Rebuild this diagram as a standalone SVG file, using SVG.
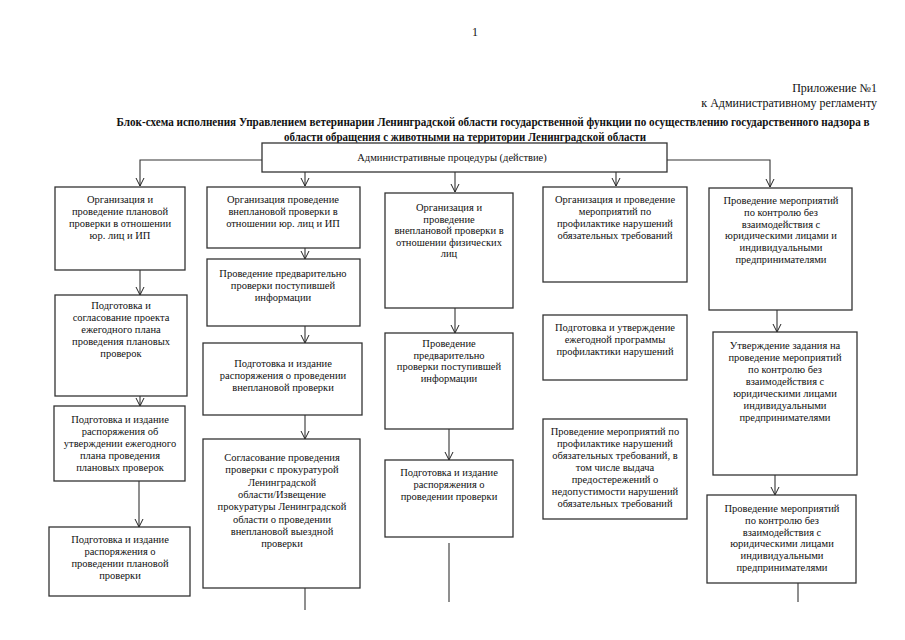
<svg xmlns="http://www.w3.org/2000/svg" width="905" height="640" viewBox="0 0 905 640" font-family="'Liberation Serif', 'Times New Roman', serif">
<defs>
<marker id="arr" markerUnits="userSpaceOnUse" markerWidth="10" markerHeight="10" refX="8" refY="4" orient="auto" viewBox="0 0 10 8">
<path d="M0,0 L8,4 L0,8" fill="none" stroke="#222" stroke-width="1"/>
</marker>
</defs>
<style>
.box{fill:#fff;stroke:#333;stroke-width:1.3}
.t{font-family:'Liberation Serif','Times New Roman',serif;font-size:10.5px;fill:#111;text-anchor:middle}
.h{font-family:'Liberation Serif','Times New Roman',serif;font-size:12px;fill:#111}
.title{font-family:'Liberation Serif','Times New Roman',serif;font-size:11.5px;font-weight:bold;fill:#111;text-anchor:middle}
.c{fill:none;stroke:#333;stroke-width:1.1}
</style>
<rect width="905" height="640" fill="#fff"/>
<text class="h" x="475" y="36" text-anchor="middle">1</text>
<text class="h" x="877" y="92" text-anchor="end">Приложение №1</text>
<text class="h" x="877" y="107" text-anchor="end">к Административному регламенту</text>
<text class="title" x="493" y="126" textLength="753" lengthAdjust="spacingAndGlyphs">Блок-схема исполнения Управлением ветеринарии Ленинградской области государственной функции по осуществлению государственного надзора в</text>
<text class="title" x="465" y="141" textLength="362" lengthAdjust="spacingAndGlyphs">области обращения с животными на территории Ленинградской области</text>

<g id="connectors">
<polyline class="c" points="262,160 140,160 140,186" marker-end="url(#arr)"/>
<polyline class="c" points="667,160 770,160 770,187" marker-end="url(#arr)"/>
<line class="c" x1="305" y1="172" x2="305" y2="186" marker-end="url(#arr)"/>
<line class="c" x1="455" y1="172" x2="455" y2="192" marker-end="url(#arr)"/>
<line class="c" x1="616" y1="172" x2="616" y2="186" marker-end="url(#arr)"/>
<line class="c" x1="140" y1="270" x2="140" y2="295" marker-end="url(#arr)"/>
<line class="c" x1="140" y1="396" x2="140" y2="406" marker-end="url(#arr)"/>
<line class="c" x1="139" y1="481" x2="139" y2="527" marker-end="url(#arr)"/>
<line class="c" x1="305" y1="248" x2="305" y2="259" marker-end="url(#arr)"/>
<line class="c" x1="305" y1="326" x2="305" y2="343" marker-end="url(#arr)"/>
<line class="c" x1="305" y1="415" x2="305" y2="439" marker-end="url(#arr)"/>
<line class="c" x1="305" y1="588" x2="305" y2="610"/>
<line class="c" x1="455" y1="308" x2="455" y2="333" marker-end="url(#arr)"/>
<line class="c" x1="449" y1="429" x2="449" y2="460" marker-end="url(#arr)"/>
<line class="c" x1="449" y1="543" x2="449" y2="602"/>
<line class="c" x1="777" y1="310" x2="777" y2="332" marker-end="url(#arr)"/>
<line class="c" x1="775" y1="475" x2="775" y2="495" marker-end="url(#arr)"/>
<line class="c" x1="798" y1="583" x2="798" y2="602"/>
</g>

<g id="top">
<rect class="box" x="262" y="143" width="405" height="29"/>
<text class="t" x="452" y="161">Административные процедуры (действие)</text>
</g>

<g id="c1b1">
<rect class="box" x="55" y="187" width="130" height="83"/>
<text class="t" y="203"><tspan x="120">Организация и</tspan><tspan x="120" dy="12">проведение плановой</tspan><tspan x="120" dy="12">проверки в отношении</tspan><tspan x="120" dy="12">юр. лиц и ИП</tspan></text>
</g>
<g id="c1b2">
<rect class="box" x="55" y="295" width="132" height="101"/>
<text class="t" y="309"><tspan x="121">Подготовка и</tspan><tspan x="121" dy="12">согласование проекта</tspan><tspan x="121" dy="12">ежегодного плана</tspan><tspan x="121" dy="12">проведения плановых</tspan><tspan x="121" dy="12">проверок</tspan></text>
</g>
<g id="c1b3">
<rect class="box" x="54" y="406" width="131" height="75"/>
<text class="t" y="423"><tspan x="120">Подготовка и издание</tspan><tspan x="120" dy="12">распоряжения об</tspan><tspan x="120" dy="12">утверждении ежегодного</tspan><tspan x="120" dy="12">плана проведения</tspan><tspan x="120" dy="12">плановых проверок</tspan></text>
</g>
<g id="c1b4">
<rect class="box" x="49" y="527" width="141" height="69"/>
<text class="t" y="543"><tspan x="120">Подготовка и издание</tspan><tspan x="120" dy="12">распоряжения о</tspan><tspan x="120" dy="12">проведении плановой</tspan><tspan x="120" dy="12">проверки</tspan></text>
</g>

<g id="c2b1">
<rect class="box" x="207" y="187" width="153" height="61"/>
<text class="t" y="203"><tspan x="283">Организация проведение</tspan><tspan x="283" dy="12">внеплановой проверки в</tspan><tspan x="283" dy="12">отношении юр. лиц и ИП</tspan></text>
</g>
<g id="c2b2">
<rect class="box" x="207" y="259" width="153" height="67"/>
<text class="t" y="277"><tspan x="283">Проведение предварительно</tspan><tspan x="283" dy="12">проверки поступившей</tspan><tspan x="283" dy="12">информации</tspan></text>
</g>
<g id="c2b3">
<rect class="box" x="203" y="343" width="159" height="72"/>
<text class="t" y="367"><tspan x="283">Подготовка и издание</tspan><tspan x="283" dy="12">распоряжения о проведении</tspan><tspan x="283" dy="12">внеплановой  проверки</tspan></text>
</g>
<g id="c2b4">
<rect class="box" x="203" y="439" width="157" height="149"/>
<text class="t" y="461"><tspan x="282">Согласование проведения</tspan><tspan x="282" dy="12.3">проверки с прокуратурой</tspan><tspan x="282" dy="12.3">Ленинградской</tspan><tspan x="282" dy="12.3">области/Извещение</tspan><tspan x="282" dy="12.3">прокуратуры Ленинградской</tspan><tspan x="282" dy="12.3">области о проведении</tspan><tspan x="282" dy="12.3">внеплановой выездной</tspan><tspan x="282" dy="12.3">проверки</tspan></text>
</g>

<g id="c3b1">
<rect class="box" x="385" y="193" width="128" height="115"/>
<text class="t" y="211"><tspan x="449">Организация и</tspan><tspan x="449" dy="11.6">проведение</tspan><tspan x="449" dy="11.6">внеплановой проверки в</tspan><tspan x="449" dy="11.6">отношении физических</tspan><tspan x="449" dy="11.6">лиц</tspan></text>
</g>
<g id="c3b2">
<rect class="box" x="385" y="333" width="128" height="96"/>
<text class="t" y="347"><tspan x="449">Проведение</tspan><tspan x="449" dy="11.7">предварительно</tspan><tspan x="449" dy="11.7">проверки поступившей</tspan><tspan x="449" dy="11.7">информации</tspan></text>
</g>
<g id="c3b3">
<rect class="box" x="385" y="460" width="128" height="77"/>
<text class="t" y="476"><tspan x="449">Подготовка и издание</tspan><tspan x="449" dy="12">распоряжения о</tspan><tspan x="449" dy="12">проведении  проверки</tspan></text>
</g>

<g id="c4b1">
<rect class="box" x="543" y="187" width="144" height="95"/>
<text class="t" y="203"><tspan x="615">Организация и проведение</tspan><tspan x="615" dy="12">мероприятий по</tspan><tspan x="615" dy="12">профилактике нарушений</tspan><tspan x="615" dy="12">обязательных требований</tspan></text>
</g>
<g id="c4b2">
<rect class="box" x="543" y="315" width="144" height="65"/>
<text class="t" y="331"><tspan x="615">Подготовка и утверждение</tspan><tspan x="615" dy="12">ежегодной программы</tspan><tspan x="615" dy="12">профилактики нарушений</tspan></text>
</g>
<g id="c4b3">
<rect class="box" x="543" y="419" width="144" height="100"/>
<text class="t" y="435"><tspan x="615">Проведение мероприятий по</tspan><tspan x="615" dy="12">профилактике нарушений</tspan><tspan x="615" dy="12">обязательных требований, в</tspan><tspan x="615" dy="12">том числе выдача</tspan><tspan x="615" dy="12">предостережений о</tspan><tspan x="615" dy="12">недопустимости нарушений</tspan><tspan x="615" dy="12">обязательных требований</tspan></text>
</g>

<g id="c5b1">
<rect class="box" x="709" y="188" width="143" height="122"/>
<text class="t" y="204"><tspan x="781">Проведение мероприятий</tspan><tspan x="781" dy="11.8">по контролю без</tspan><tspan x="781" dy="11.8">взаимодействия с</tspan><tspan x="781" dy="11.8">юридическими лицами и</tspan><tspan x="781" dy="11.8">индивидуальными</tspan><tspan x="781" dy="11.8">предпринимателями</tspan></text>
</g>
<g id="c5b2">
<rect class="box" x="713" y="332" width="144" height="143"/>
<text class="t" y="349"><tspan x="785">Утверждение задания на</tspan><tspan x="785" dy="12">проведение мероприятий</tspan><tspan x="785" dy="12">по контролю без</tspan><tspan x="785" dy="12">взаимодействия с</tspan><tspan x="785" dy="12">юридическими лицами</tspan><tspan x="785" dy="12">индивидуальными</tspan><tspan x="785" dy="12">предпринимателями</tspan></text>
</g>
<g id="c5b3">
<rect class="box" x="707" y="495" width="149" height="88"/>
<text class="t" y="512"><tspan x="782">Проведение  мероприятий</tspan><tspan x="782" dy="11.8">по контролю без</tspan><tspan x="782" dy="11.8">взаимодействия с</tspan><tspan x="782" dy="11.8">юридическими лицами</tspan><tspan x="782" dy="11.8">индивидуальными</tspan><tspan x="782" dy="11.8">предпринимателями</tspan></text>
</g>
</svg>
